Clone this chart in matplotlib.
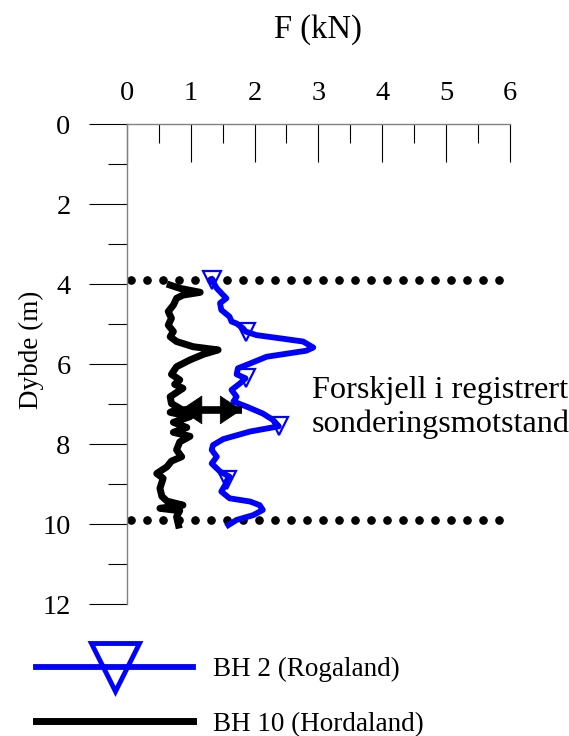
import numpy as np
import matplotlib.pyplot as plt
from matplotlib.lines import Line2D
from matplotlib.ticker import MultipleLocator

plt.rcParams['font.family'] = ['Liberation Serif', 'DejaVu Serif']

# BH 2 (Rogaland) - force (kN) vs depth (m)
bh2_f = [1.33, 1.41, 1.51, 1.56, 1.46, 1.48, 1.61, 1.64, 1.72, 1.82,
         1.86, 2.03, 2.40, 2.76, 2.92, 2.81, 2.19, 1.93, 1.74, 1.72,
         1.86, 1.77, 1.64, 1.72, 1.67, 1.88, 2.13, 2.29, 2.38, 1.93,
         1.51, 1.35, 1.33, 1.41, 1.33, 1.46, 1.61, 1.57, 1.54, 1.48,
         1.61, 1.93, 2.08, 2.13, 1.98, 1.72, 1.59]
bh2_d = [3.88, 4.10, 4.27, 4.35, 4.47, 4.64, 4.81, 4.93, 4.98, 5.10,
         5.18, 5.27, 5.35, 5.43, 5.58, 5.66, 5.81, 5.98, 6.10, 6.25,
         6.35, 6.48, 6.64, 6.81, 6.93, 7.06, 7.23, 7.39, 7.55, 7.68,
         7.87, 8.02, 8.14, 8.31, 8.48, 8.68, 8.81, 8.90, 9.02, 9.18,
         9.35, 9.43, 9.52, 9.64, 9.77, 9.89, 10.02]
bh2_marks = [0, 10, 20, 28, 37]

# BH 10 (Hordaland)
bh10_f = [0.68, 0.83, 1.15, 0.88, 0.78, 0.73, 0.65, 0.70, 0.65, 0.73,
          0.68, 0.78, 1.04, 1.43, 1.20, 0.99, 0.78, 0.70, 0.83, 0.75,
          0.88, 0.68, 0.70, 0.83, 0.68, 0.99, 0.73, 0.94, 0.73, 0.99,
          0.83, 0.78, 0.86, 0.70, 0.63, 0.47, 0.57, 0.52, 0.55, 0.63,
          0.88, 0.52, 0.83, 0.78, 0.81]
bh10_d = [4.02, 4.10, 4.20, 4.27, 4.35, 4.52, 4.68, 4.85, 5.02, 5.18,
          5.31, 5.43, 5.56, 5.64, 5.75, 5.89, 6.06, 6.25, 6.39, 6.50,
          6.60, 6.81, 6.98, 7.10, 7.20, 7.31, 7.45, 7.58, 7.70, 7.80,
          7.94, 8.14, 8.31, 8.42, 8.56, 8.73, 8.85, 9.10, 9.30, 9.42,
          9.52, 9.60, 9.66, 9.81, 10.02]

# dotted boundary lines
bound_depths = [3.89, 9.89]
bound_x = np.arange(0.07, 5.9, 0.25)

# double arrow between the two curves
arrow_d = 7.14
arrow_f = [0.84, 1.80]

fig = plt.figure(figsize=(5.69, 7.36), dpi=100)
ax = fig.add_axes([0.2227, 0.1789, 0.6738, 0.6522])

for d in bound_depths:
    ax.plot(bound_x, [d] * len(bound_x), 'o', color='black', ms=5.2, clip_on=False)

ax.plot(bh10_f, bh10_d, color='black', lw=5, solid_joinstyle='round', clip_on=False)
ax.plot(bh2_f, bh2_d, color='#0000ff', lw=4.2, marker='v', markevery=bh2_marks,
        ms=13, mfc='none', mec='#0000ff', mew=1.6, clip_on=False)

# arrow: thick shaft plus two filled heads
mid = (arrow_f[0] + arrow_f[1]) / 2
ax.plot(arrow_f, [arrow_d, arrow_d], color='black', lw=5.5, solid_capstyle='butt')
for end in arrow_f:
    ax.annotate('', xy=(end, arrow_d), xytext=(mid, arrow_d),
                arrowprops=dict(arrowstyle='-|>,head_length=1.5,head_width=1.0',
                                mutation_scale=10, lw=0.5, color='black',
                                shrinkA=0, shrinkB=0))

ax.text(2.9, 7.08, 'Forskjell i registrert\nsonderingsmotstand', fontsize=23.2,
        va='center', ha='left', linespacing=1.2)

ax.set_xlim(0, 6)
ax.set_ylim(12, 0)
ax.xaxis.tick_top()
ax.xaxis.set_label_position('top')
ax.xaxis.set_major_locator(MultipleLocator(1))
ax.xaxis.set_minor_locator(MultipleLocator(0.5))
ax.yaxis.set_major_locator(MultipleLocator(2))
ax.yaxis.set_minor_locator(MultipleLocator(1))
ax.tick_params(axis='x', which='major', direction='in', length=27.4, width=0.8,
               labelsize=20.5, pad=13)
ax.tick_params(axis='x', which='minor', direction='in', length=13.7, width=0.8)
ax.tick_params(axis='y', which='major', direction='out', length=27.4, width=0.8,
               labelsize=20.5, pad=13)
ax.tick_params(axis='y', which='minor', direction='out', length=13.7, width=0.8)
for s in ['right', 'bottom']:
    ax.spines[s].set_visible(False)
for s in ['left', 'top']:
    ax.spines[s].set_color('#808080')
    ax.spines[s].set_linewidth(1.0)

ax.set_xlabel('F (kN)', fontsize=23.5, labelpad=31)
ax.set_ylabel('Dybde (m)', fontsize=19.5)
ax.yaxis.set_label_coords(-0.215, 0.53)

handles = [Line2D([], [], color='#0000ff', lw=4.2, marker='v', ms=34, mfc='none',
                  mec='#0000ff', mew=3.5),
           Line2D([], [], color='black', lw=5)]
fig.legend(handles, ['BH 2 (Rogaland)', 'BH 10 (Hordaland)'], loc='upper left',
           bbox_to_anchor=(0.0633, 0.107), frameon=False, fontsize=19.5,
           handlelength=5.8, handletextpad=0.75, labelspacing=1.08,
           numpoints=1, borderaxespad=0, borderpad=0)

fig.savefig('out.png', dpi=100)
